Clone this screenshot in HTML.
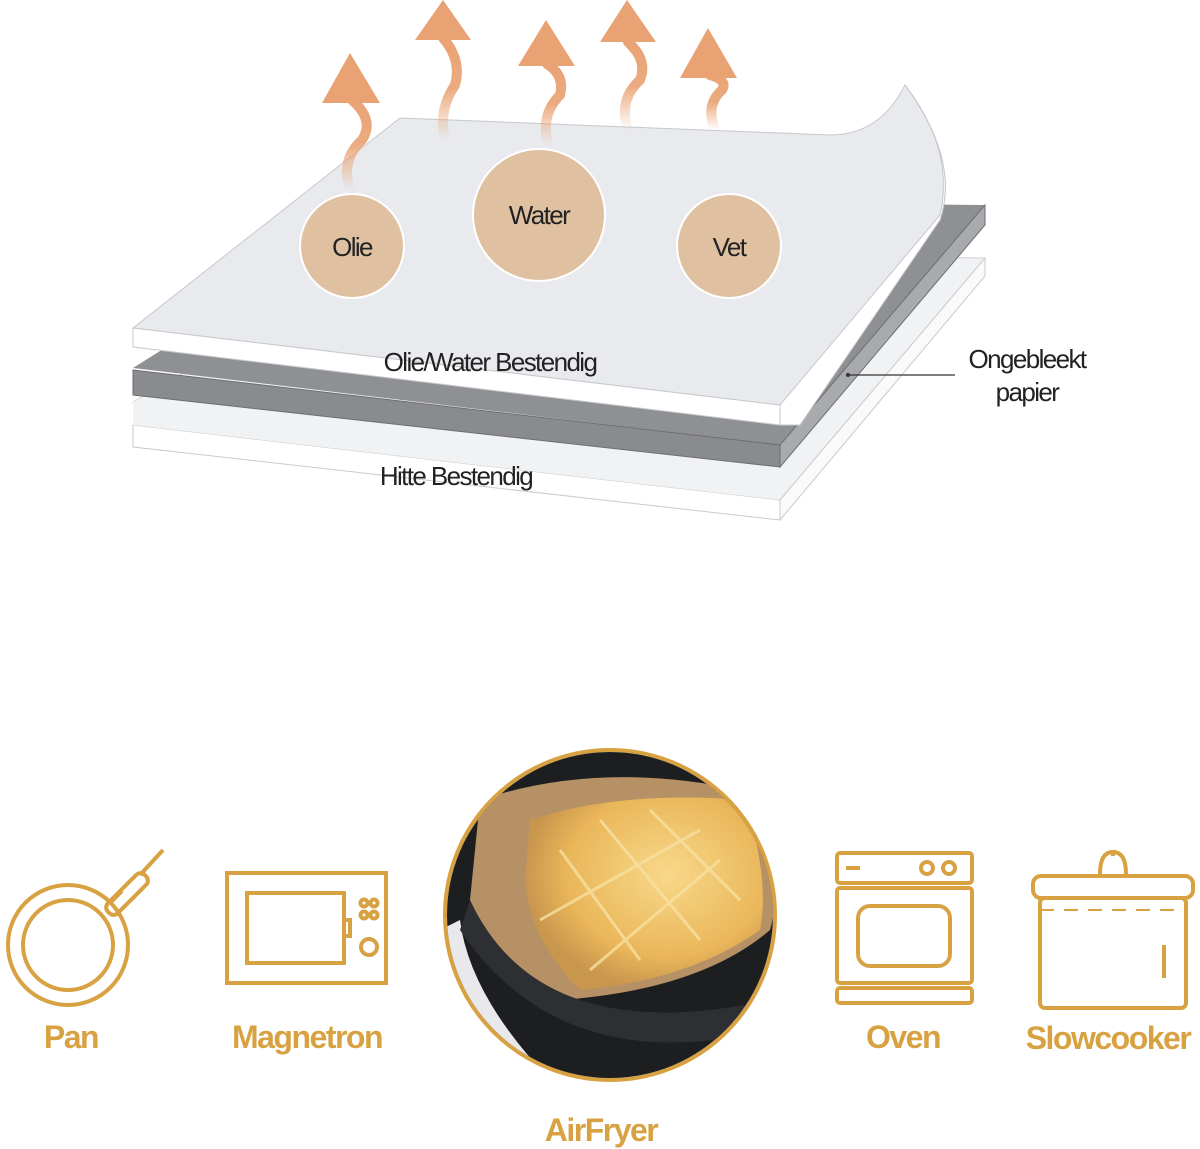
<!DOCTYPE html>
<html><head><meta charset="utf-8"><style>
html,body{margin:0;padding:0;background:#fff;}
svg{display:block;}
</style></head><body>
<svg width="1200" height="1149" viewBox="0 0 1200 1149" xmlns="http://www.w3.org/2000/svg" font-family="Liberation Sans, sans-serif">
<defs>
<linearGradient id="fade" x1="0" y1="1" x2="0" y2="0">
<stop offset="0" stop-color="#e9a273" stop-opacity="0"/>
<stop offset="0.5" stop-color="#e9a273" stop-opacity="0.9"/>
<stop offset="1" stop-color="#e9a273"/>
</linearGradient>
<radialGradient id="fries" cx="0.6" cy="0.4" r="0.6">
<stop offset="0" stop-color="#f8d88a"/>
<stop offset="0.7" stop-color="#eab75a"/>
<stop offset="1" stop-color="#c9964e"/>
</radialGradient>
<clipPath id="cc"><circle cx="610" cy="915" r="163"/></clipPath>
</defs>

<!-- bottom white layer -->
<polygon points="133,402 400,250 985,258 780,500" fill="#f1f2f4" stroke="#d0d2d6"/>
<polygon points="133,425 780,500 780,520 133,447" fill="#fff" stroke="#c8cacd"/>
<polygon points="133,402 133,425 780,500 985,258" fill="#f1f2f4"/>
<polygon points="780,500 985,258 985,276 780,520" fill="#fafafa" stroke="#c8cacd"/>
<!-- gray layer -->
<polygon points="133,368 400,200 985,205 780,445" fill="#8f9093"/>
<polygon points="133,370 780,445 780,467 133,395" fill="#8a8b8e" stroke="#6d6e71"/>
<polygon points="780,445 985,205 985,225 780,467" fill="#a9aaad" stroke="#6d6e71"/>
<!-- top sheet -->
<path d="M133,328 L400,118 L830,135 Q880,135 905,85 Q960,160 940,220 L780,405 Z" fill="#e9eaed" stroke="#c6c8cc"/>
<path d="M905,85 Q960,160 940,220 L800,425 L780,425 L780,405 L940,215 Q955,150 905,85 Z" fill="#fff" stroke="#c6c8cc"/>
<polygon points="133,328 780,405 780,425 133,347" fill="#fff" stroke="#c6c8cc"/>

<!-- arrows -->
<g fill="none" stroke="url(#fade)" stroke-width="10" stroke-linecap="round">
<path d="M350,190 Q340,160 362,140 Q375,120 352,100"/>
<path d="M445,140 Q438,110 455,85 Q462,60 443,38"/>
<path d="M548,145 Q540,115 560,95 Q565,75 547,64"/>
<path d="M628,130 Q618,100 640,80 Q648,60 628,42"/>
<path d="M715,130 Q705,105 722,90 Q728,80 710,75"/>
</g>
<g fill="#e9a273">
<polygon points="350,53 322,103 380,103"/>
<polygon points="443,0 415,40 471,40"/>
<polygon points="546,20 518,66 575,66"/>
<polygon points="627,0 600,42 656,42"/>
<polygon points="708,28 680,78 737,78"/>
</g>

<!-- circles -->
<g fill="#dfc1a2" stroke="#fff" stroke-width="2">
<circle cx="352" cy="246" r="52"/>
<circle cx="539" cy="215" r="66"/>
<circle cx="729" cy="246" r="52"/>
</g>
<g font-size="26" fill="#222" text-anchor="middle" letter-spacing="-1.6">
<text x="352" y="256">Olie</text>
<text x="539" y="224">Water</text>
<text x="729" y="256">Vet</text>
<text x="490" y="371">Olie/Water Bestendig</text>
<text x="456" y="485">Hitte Bestendig</text>
<text x="1027" y="368">Ongebleekt</text>
<text x="1027" y="401">papier</text>
</g>
<line x1="848" y1="375" x2="955" y2="375" stroke="#333" stroke-width="1.2"/>
<circle cx="848" cy="375" r="2" fill="#333"/>

<!-- bottom icons -->
<g fill="none" stroke="#d8a243" stroke-width="4">
<circle cx="68" cy="945" r="60"/>
<circle cx="68" cy="945" r="45"/>
<line x1="110" y1="903" x2="122" y2="891"/>
<rect x="120" y="868" width="14" height="52" rx="6" transform="rotate(45 127 894)"/>
<line x1="140" y1="875" x2="163" y2="850"/>
<rect x="227" y="873" width="159" height="110"/>
<rect x="247" y="893" width="97" height="70"/>
<rect x="344" y="920" width="6" height="16"/>
<circle cx="364" cy="903" r="3.5"/><circle cx="374" cy="903" r="3.5"/>
<circle cx="364" cy="915" r="3.5"/><circle cx="374" cy="915" r="3.5"/>
<circle cx="369" cy="947" r="8"/>
<rect x="837" y="853" width="135" height="30" rx="3"/>
<line x1="846" y1="868" x2="860" y2="868"/>
<circle cx="927" cy="868" r="6"/><circle cx="949" cy="868" r="6"/>
<rect x="837" y="888" width="135" height="95" rx="3"/>
<rect x="858" y="906" width="92" height="60" rx="12"/>
<rect x="837" y="988" width="135" height="15" rx="3"/>
<path d="M1100,874 Q1100,852 1113,852 Q1126,852 1126,874"/>
<line x1="1113" y1="850" x2="1113" y2="856"/>
<rect x="1033" y="876" width="160" height="22" rx="8"/>
<line x1="1040" y1="910" x2="1186" y2="910" stroke-dasharray="14 10" stroke-width="2"/>
<rect x="1040" y="898" width="146" height="110" rx="5"/>
<line x1="1164" y1="945" x2="1164" y2="978"/>
</g>

<!-- airfryer photo -->
<circle cx="610" cy="915" r="165" fill="#fff" stroke="#d8a243" stroke-width="4"/>
<g clip-path="url(#cc)">
<rect x="440" y="750" width="340" height="340" fill="#1d1e20"/>
<path d="M440,930 L440,1090 L560,1090 Q470,1000 460,920 Z" fill="#e9e9ec"/>
<path d="M480,800 Q600,760 740,790 Q790,860 770,930 Q700,990 560,1000 Q500,980 470,900 Z" fill="#b79166"/>
<path d="M530,820 Q620,790 745,800 Q770,880 760,930 Q690,980 580,990 Q530,940 525,880 Z" fill="url(#fries)"/>
<g stroke="#f7e0a0" stroke-width="3" opacity="0.8">
<line x1="560" y1="850" x2="640" y2="960"/><line x1="600" y1="820" x2="700" y2="940"/>
<line x1="650" y1="810" x2="740" y2="900"/><line x1="540" y1="920" x2="700" y2="830"/>
<line x1="590" y1="970" x2="720" y2="860"/>
</g>
<path d="M470,900 Q540,1050 770,1000 L770,1030 Q560,1080 460,930 Z" fill="#2e2f32"/>
</g>

<g font-size="32" font-weight="bold" fill="#d8a243" text-anchor="middle" letter-spacing="-1.5">
<text x="71" y="1048">Pan</text>
<text x="307" y="1048">Magnetron</text>
<text x="601" y="1141">AirFryer</text>
<text x="903" y="1048">Oven</text>
<text x="1108" y="1049">Slowcooker</text>
</g>
</svg>
</body></html>
